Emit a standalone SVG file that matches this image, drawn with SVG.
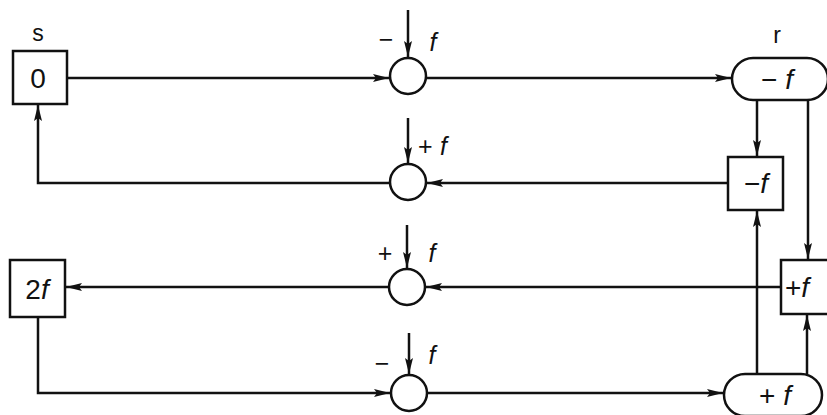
<svg xmlns="http://www.w3.org/2000/svg" width="827" height="415" viewBox="0 0 827 415">
<defs>
<marker id="ah" viewBox="0 0 16 9" refX="16" refY="4.5" markerWidth="16" markerHeight="9" markerUnits="userSpaceOnUse" orient="auto">
<path d="M0,0.5 L16,4.5 L0,8.5 L3,4.5 Z" fill="#111"/>
</marker>
<style>
.ln{fill:none;stroke:#111;stroke-width:2.5;stroke-linejoin:miter}
.ar{marker-end:url(#ah)}
.nd{fill:#fff;stroke:#111;stroke-width:2.5}
.t{font-family:"Liberation Sans",Arial,sans-serif;fill:#111}
.big{font-size:28px;text-anchor:middle}
.it{font-style:italic}
.lab{font-size:25px}
</style>
</defs>
<rect width="827" height="415" fill="#fff"/>
<g id="connectors">
<path class="ln ar" d="M67,78 H389"/>
<path class="ln ar" d="M427,78 H731"/>
<path class="ln ar" d="M757,100 V156"/>
<path class="ln ar" d="M728,183 H427"/>
<path class="ln ar" d="M389,183 H38 V105"/>
<path class="ln ar" d="M808,100 V259"/>
<path class="ln ar" d="M781,287 H426"/>
<path class="ln ar" d="M388,287 H66"/>
<path class="ln ar" d="M38,317 V393 H390"/>
<path class="ln ar" d="M428,393 H723"/>
<path class="ln ar" d="M757,374 V211"/>
<path class="ln ar" d="M807,374 V315"/>
<path class="ln ar" d="M408,10 V57"/>
<path class="ln ar" d="M408,118 V163"/>
<path class="ln ar" d="M407,225 V268"/>
<path class="ln ar" d="M409,333 V374"/>
</g>
<g id="s">
<text class="t" x="38" y="41" font-size="23" text-anchor="middle">s</text>
<rect class="nd" x="13" y="51" width="54" height="53"/>
<text class="t big" x="38" y="88">0</text>
</g>
<g id="sum1">
<circle class="nd" cx="408" cy="76" r="18"/>
<text class="t lab" x="386" y="48" text-anchor="middle">−</text>
<text class="t lab it" x="433" y="51" text-anchor="middle">f</text>
</g>
<g id="sum2">
<circle class="nd" cx="408" cy="182" r="18"/>
<text class="t lab" x="418" y="155">+</text>
<text class="t lab it" x="440" y="155">f</text>
</g>
<g id="sum3">
<circle class="nd" cx="407" cy="287" r="18"/>
<text class="t lab" x="385" y="262" text-anchor="middle">+</text>
<text class="t lab it" x="432" y="262" text-anchor="middle">f</text>
</g>
<g id="sum4">
<circle class="nd" cx="409" cy="393" r="18"/>
<text class="t lab" x="382" y="372" text-anchor="middle">−</text>
<text class="t lab it" x="432" y="364" text-anchor="middle">f</text>
</g>
<g id="r">
<text class="t" x="777" y="43" font-size="23" text-anchor="middle">r</text>
<rect class="nd" x="732" y="58" width="96" height="42" rx="21"/>
<text class="t big" x="777" y="89"><tspan>− </tspan><tspan class="it">f</tspan></text>
</g>
<g id="boxMinus">
<rect class="nd" x="728" y="157" width="55" height="53"/>
<text class="t big" x="756" y="193"><tspan>−</tspan><tspan class="it">f</tspan></text>
</g>
<g id="boxPlus">
<rect class="nd" x="781" y="260" width="52" height="54"/>
<text class="t" font-size="28" x="785" y="297" text-anchor="start"><tspan>+</tspan><tspan class="it">f</tspan></text>
</g>
<g id="twof">
<rect class="nd" x="10" y="260" width="55" height="57"/>
<text class="t big" x="37" y="299"><tspan>2</tspan><tspan class="it">f</tspan></text>
</g>
<g id="pillPlus">
<rect class="nd" x="724" y="374" width="98" height="42" rx="21"/>
<text class="t big" x="775" y="405"><tspan>+ </tspan><tspan class="it">f</tspan></text>
</g>
</svg>
